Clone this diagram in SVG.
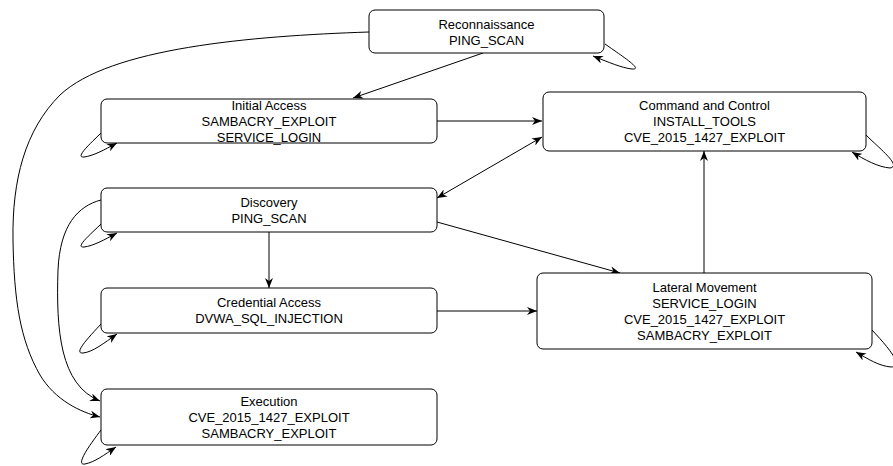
<svg xmlns="http://www.w3.org/2000/svg" width="893" height="466" viewBox="0 0 893 466">
  <style>
    .node rect { fill: #ffffff; stroke: #000000; stroke-width: 1; }
    .node text { font-family: "Liberation Sans", Arial, Helvetica, sans-serif; font-size: 13px; fill: #000000; text-anchor: middle; }
    .edge { fill: none; stroke: #000000; stroke-width: 1; marker-end: url(#arrow); }
    .both { marker-start: url(#arrow); }
  </style>
  <defs>
    <marker id="arrow" viewBox="0 0 10 8" markerUnits="userSpaceOnUse" markerWidth="10" markerHeight="8" refX="10" refY="4" orient="auto-start-reverse">
      <path d="M0,0 L10,4 L0,8 L3,4 Z" fill="#000000"/>
    </marker>
  </defs>
  <rect width="893" height="466" fill="#ffffff"/>

  <g id="connectors">
    <!-- Reconnaissance -> Initial Access -->
    <path class="edge" d="M483,53 L353,98"/>
    <!-- Reconnaissance -> Execution (long curve on the left) -->
    <path class="edge" d="M369,32 C250,36 110,48 60,95 C25,130 12,180 13,240 C14,300 20,340 40,375 C55,400 80,412 100,417"/>
    <!-- Discovery -> Execution -->
    <path class="edge" d="M101,200 C78,206 60,225 58,270 C56,330 60,385 100,401"/>
    <!-- Initial Access -> Command and Control -->
    <path class="edge" d="M437,121 L542,121"/>
    <!-- Discovery <-> Command and Control -->
    <path class="edge both" d="M437,198 L542,137"/>
    <!-- Discovery -> Lateral Movement -->
    <path class="edge" d="M437,222 L620,273"/>
    <!-- Discovery -> Credential Access -->
    <path class="edge" d="M269,232 L269,288"/>
    <!-- Credential Access -> Lateral Movement -->
    <path class="edge" d="M437,311 L537,311"/>
    <!-- Lateral Movement -> Command and Control -->
    <path class="edge" d="M704,273 L704,151"/>
    <!-- self loops -->
    <path class="edge" d="M605,44 C622,56 644,70 632,69 C622,68 608,62 593,56"/>
    <path class="edge" d="M866,135 C880,149 902,166 890,168 C878,167 865,160 852,152"/>
    <path class="edge" d="M872,330 C886,345 905,366 891,367 C879,366 868,359 856,352"/>
    <path class="edge" d="M101,133 C92,142 74,158 84,157 C93,156 104,150 117,143"/>
    <path class="edge" d="M101,224 C92,233 74,248 84,247 C93,246 104,240 117,233"/>
    <path class="edge" d="M101,324 C92,334 72,354 83,353 C93,352 104,343 117,334"/>
    <path class="edge" d="M101,430 C92,442 74,466 85,464 C95,462 104,455 116,447"/>
  </g>

  <g id="reconnaissance" class="node">
    <rect x="369" y="10" width="235" height="43" rx="6"/>
    <text x="486.5" y="28.5">Reconnaissance</text>
    <text x="486.5" y="45">PING_SCAN</text>
  </g>

  <g id="initial-access" class="node">
    <rect x="101" y="99" width="336" height="44" rx="6"/>
    <text x="269" y="109.6">Initial Access</text>
    <text x="269" y="125.6">SAMBACRY_EXPLOIT</text>
    <text x="269" y="141.6">SERVICE_LOGIN</text>
  </g>

  <g id="command-and-control" class="node">
    <rect x="543" y="92" width="323" height="59" rx="6"/>
    <text x="704.5" y="109.6">Command and Control</text>
    <text x="704.5" y="125.6">INSTALL_TOOLS</text>
    <text x="704.5" y="141.6">CVE_2015_1427_EXPLOIT</text>
  </g>

  <g id="discovery" class="node">
    <rect x="101" y="188" width="336" height="44" rx="6"/>
    <text x="269" y="206.6">Discovery</text>
    <text x="269" y="222.6">PING_SCAN</text>
  </g>

  <g id="credential-access" class="node">
    <rect x="101" y="288" width="336" height="45" rx="6"/>
    <text x="269" y="307">Credential Access</text>
    <text x="269" y="323">DVWA_SQL_INJECTION</text>
  </g>

  <g id="lateral-movement" class="node">
    <rect x="537" y="273" width="335" height="76" rx="6"/>
    <text x="704.5" y="291.6">Lateral Movement</text>
    <text x="704.5" y="307.6">SERVICE_LOGIN</text>
    <text x="704.5" y="323.6">CVE_2015_1427_EXPLOIT</text>
    <text x="704.5" y="339.6">SAMBACRY_EXPLOIT</text>
  </g>

  <g id="execution" class="node">
    <rect x="101" y="389" width="336" height="56" rx="6"/>
    <text x="269" y="405.6">Execution</text>
    <text x="269" y="421.6">CVE_2015_1427_EXPLOIT</text>
    <text x="269" y="437.6">SAMBACRY_EXPLOIT</text>
  </g>
</svg>
